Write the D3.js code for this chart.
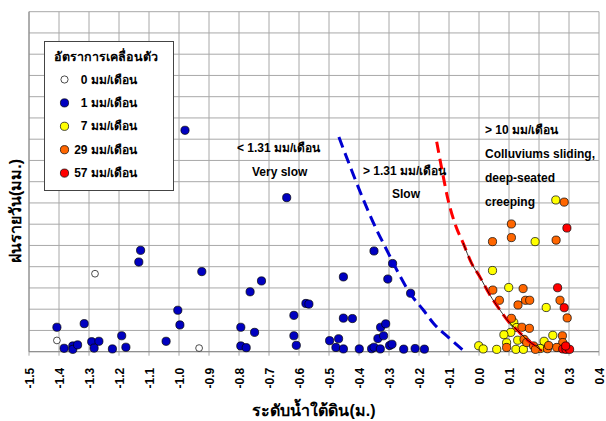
<!DOCTYPE html>
<html>
<head>
<meta charset="utf-8">
<script src="https://cdn.jsdelivr.net/npm/d3@7"></script>
<style>
  body { margin: 0; background: #fff; }
  svg { display: block; font-family: "Liberation Sans", Arial, sans-serif; }
</style>
</head>
<body>
<svg id="chart" width="606" height="421"></svg>
<script>
// Groundwater level (m) vs daily rainfall (mm), grouped by movement rate
const xTickValues = [-1.5, -1.4, -1.3, -1.2, -1.1, -1.0, -0.9, -0.8, -0.7, -0.6, -0.5, -0.4, -0.3, -0.2, -0.1, 0.0, 0.1, 0.2, 0.3, 0.4];
const xTickLabels = ["-1.5", "-1.4", "-1.3", "-1.2", "-1.1", "-1.0", "-0.9", "-0.8", "-0.7", "-0.6", "-0.5", "-0.4", "-0.3", "-0.2", "-0.1", "0.0", "0.1", "0.2", "0.3", "0.4"];
const yGridValues = [0, 10, 20, 30, 40, 50, 60, 70, 80, 90, 100, 110, 120, 130, 140, 150, 160];

const rateLabels = ["0", "1", "7", "29", "57"];
const rateColors = ["#ffffff", "#0000c0", "#ffff00", "#ff6600", "#ff0000"];

// [groundwater level, daily rainfall]
const rate0 = [[-1.280, 36.7], [-1.407, 5.3], [-0.933, 1.7]];
const rate1 = [
  [-1.128, 47.7], [-1.134, 42.2], [-1.004, 19.5], [-0.997, 12.6], [-1.407, 11.5], [-1.316, 13.2],
  [-1.383, 1.6], [-1.354, 2.7], [-1.354, 1.1], [-1.338, 3.2], [-1.291, 4.7], [-1.267, 4.9],
  [-1.283, 1.7], [-1.222, 1.3], [-1.191, 7.5], [-1.177, 2.1], [-1.043, 4.9], [-0.980, 104.2],
  [-0.924, 37.7], [-0.794, 11.5], [-0.748, 9.1], [-0.794, 2.7], [-0.776, 1.9], [-0.763, 28.2],
  [-0.725, 33.3], [-0.641, 72.5], [-0.617, 17.1], [-0.617, 7.5], [-0.609, 3.0], [-0.577, 22.7],
  [-0.567, 22.4], [-0.498, 5.2], [-0.350, 47.4], [-0.288, 41.5], [-0.452, 35.2], [-0.304, 34.2],
  [-0.228, 27.5], [-0.452, 15.8], [-0.422, 15.6], [-0.328, 11.5], [-0.311, 13.1], [-0.468, 6.1],
  [-0.337, 6.2], [-0.318, 7.5], [-0.477, 2.0], [-0.452, 1.3], [-0.399, 1.3], [-0.358, 1.4],
  [-0.350, 2.1], [-0.329, 1.3], [-0.298, 2.9], [-0.290, 3.5], [-0.251, 1.2], [-0.213, 1.5],
  [-0.182, 1.2]
];
const rate7 = [
  [0.256, 71.4], [0.187, 51.8], [0.045, 38.2], [0.099, 30.2], [0.224, 20.8], [0.116, 13.8],
  [0.126, 11.4], [0.106, 9.1], [0.083, 8.0], [0.092, 4.2], [0.217, 4.9], [0.246, 7.7],
  [-0.001, 2.8], [0.014, 1.3], [0.059, 1.1], [0.123, 1.1], [0.148, 1.1], [0.204, 1.5],
  [0.129, 5.4]
];
const rate29 = [
  [0.284, 70.4], [0.108, 60.1], [0.045, 51.8], [0.108, 53.7], [0.257, 52.5], [0.046, 29.0],
  [0.147, 29.7], [0.068, 24.2], [0.130, 22.0], [0.155, 24.2], [0.169, 24.2], [0.270, 24.2],
  [0.294, 15.9], [0.108, 15.7], [0.143, 11.5], [0.168, 11.0], [0.150, 5.8], [0.159, 4.3],
  [0.278, 7.5], [0.279, 4.3], [0.092, 2.0], [0.182, 2.7], [0.188, 1.1], [0.228, 1.4],
  [0.232, 2.9], [0.259, 2.0]
];
const rate57 = [
  [0.293, 58.2], [0.262, 30.1], [0.284, 20.7], [0.279, 1.3], [0.290, 1.1], [0.302, 1.1], [0.289, 2.7]
];
const ratePoints = [rate0, rate1, rate7, rate29, rate57];

// threshold curves
const slowLimit = [
  [-0.467, 101], [-0.425, 85.5], [-0.385, 71.4], [-0.341, 57.3], [-0.308, 48], [-0.27, 37.4],
  [-0.23, 27.5], [-0.185, 19.5], [-0.152, 13.4], [-0.1, 6.5], [-0.047, 0]
];
const fastLimit = [
  [-0.141, 98.8], [-0.122, 84.5], [-0.103, 71.4], [-0.078, 59.4], [-0.053, 51.2], [-0.025, 41.7],
  [0.003, 35.2], [0.035, 27], [0.07, 19.6], [0.1, 13.9], [0.127, 10.2], [0.16, 5.6],
  [0.193, 2.2], [0.21, 0.3]
];
const fastTrend = fastLimit.filter(d => d[0] >= -0.053);

const svg = d3.select("#chart");
const plot = { left: 29, right: 599, top: 11.7, bottom: 351.7 };

const x = d3.scaleLinear().domain([-1.5, 0.4]).range([plot.left, plot.right]);
const y = d3.scaleLinear().domain([0, 160]).range([plot.bottom, plot.top]);

// grid
const grid = svg.append("g");
grid.selectAll("line.v").data(xTickValues).join("line")
  .attr("x1", d => x(d)).attr("x2", d => x(d))
  .attr("y1", plot.top).attr("y2", plot.bottom + 4)
  .attr("stroke", "#a8a8a8").attr("stroke-width", 1);
grid.selectAll("line.h").data(yGridValues).join("line")
  .attr("x1", plot.left).attr("x2", plot.right)
  .attr("y1", d => y(d)).attr("y2", d => y(d))
  .attr("stroke", "#a8a8a8").attr("stroke-width", 1);

// axis lines
svg.append("line").attr("x1", plot.left).attr("x2", plot.right)
  .attr("y1", plot.bottom).attr("y2", plot.bottom).attr("stroke", "#888").attr("stroke-width", 1);
svg.append("line").attr("x1", plot.left).attr("x2", plot.left)
  .attr("y1", plot.top).attr("y2", plot.bottom).attr("stroke", "#888").attr("stroke-width", 1);

// x tick labels, rotated
const xAxis = d3.axisBottom(x).tickValues(xTickValues)
  .tickFormat((d, i) => xTickLabels[i]).tickSize(0);
const xg = svg.append("g").attr("transform", `translate(0,${plot.bottom})`).call(xAxis);
xg.select(".domain").remove();
xg.selectAll("text")
  .attr("transform", "rotate(-90)")
  .attr("x", -16).attr("y", 0).attr("dy", "0.36em")
  .attr("text-anchor", "end")
  .attr("font-size", 12).attr("font-weight", "bold")
  .attr("font-family", "'Liberation Sans', Arial, sans-serif")
  .attr("fill", "#000");

// axis titles
svg.append("text").attr("x", 314).attr("y", 416).attr("text-anchor", "middle")
  .attr("font-size", 16).attr("font-weight", "bold").text("ระดับน้ำใต้ดิน(ม.)");
svg.append("text").attr("transform", "translate(21,211) rotate(-90)").attr("text-anchor", "middle")
  .attr("font-size", 16).attr("font-weight", "bold").text("ฝนรายวัน(มม.)");

// points
const pts = svg.append("g");
ratePoints.forEach((series, i) => {
  pts.selectAll(null).data(series).join("circle")
    .attr("cx", d => x(d[0])).attr("cy", d => y(d[1]))
    .attr("r", i === 0 ? 3.4 : 4.1)
    .attr("fill", rateColors[i])
    .attr("stroke", "#000").attr("stroke-width", 0.7);
});

// threshold curves
const line = d3.line().x(d => x(d[0])).y(d => y(d[1])).curve(d3.curveMonotoneX);
svg.append("path").attr("d", line(slowLimit)).attr("fill", "none")
  .attr("stroke", "#0000d0").attr("stroke-width", 3).attr("stroke-dasharray", "11,6");
svg.append("path").attr("d", line(fastLimit)).attr("fill", "none")
  .attr("stroke", "#ff0000").attr("stroke-width", 3).attr("stroke-dasharray", "11,6");
svg.append("path").attr("d", line(fastTrend)).attr("fill", "none")
  .attr("stroke", "#000").attr("stroke-width", 0.8);

// zone annotations
const ann = svg.append("g").attr("font-size", 12).attr("font-weight", "bold").attr("fill", "#000");
ann.append("text").attr("x", 237).attr("y", 152).text("< 1.31 มม/เดือน");
ann.append("text").attr("x", 252).attr("y", 176).text("Very slow");
ann.append("text").attr("x", 363).attr("y", 175).text("> 1.31 มม/เดือน");
ann.append("text").attr("x", 392).attr("y", 198).text("Slow");
ann.append("text").attr("x", 485).attr("y", 134).text("> 10 มม/เดือน");
ann.append("text").attr("x", 485).attr("y", 158).text("Colluviums sliding,");
ann.append("text").attr("x", 485).attr("y", 182).text("deep-seated");
ann.append("text").attr("x", 485).attr("y", 206).text("creeping");

// legend
const lg = svg.append("g");
lg.append("rect").attr("x", 44.5).attr("y", 41.5).attr("width", 129).attr("height", 149)
  .attr("fill", "#fff").attr("stroke", "#444").attr("stroke-width", 1);
lg.append("text").attr("x", 54).attr("y", 61).attr("font-size", 12.5).attr("font-weight", "bold")
  .text("อัตราการเคลื่อนตัว");
rateLabels.forEach((lab, i) => {
  const cy = 79.5 + i * 23.4;
  lg.append("circle").attr("cx", 64.5).attr("cy", cy).attr("r", i === 0 ? 3.6 : 4.1)
    .attr("fill", rateColors[i]).attr("stroke", "#000").attr("stroke-width", 0.7);
  lg.append("text").attr("x", 87.5).attr("y", cy + 4).attr("text-anchor", "end")
    .attr("font-size", 12).attr("font-weight", "bold").text(lab);
  lg.append("text").attr("x", 91).attr("y", cy + 4)
    .attr("font-size", 12).attr("font-weight", "bold").text("มม/เดือน");
});
</script>
</body>
</html>
